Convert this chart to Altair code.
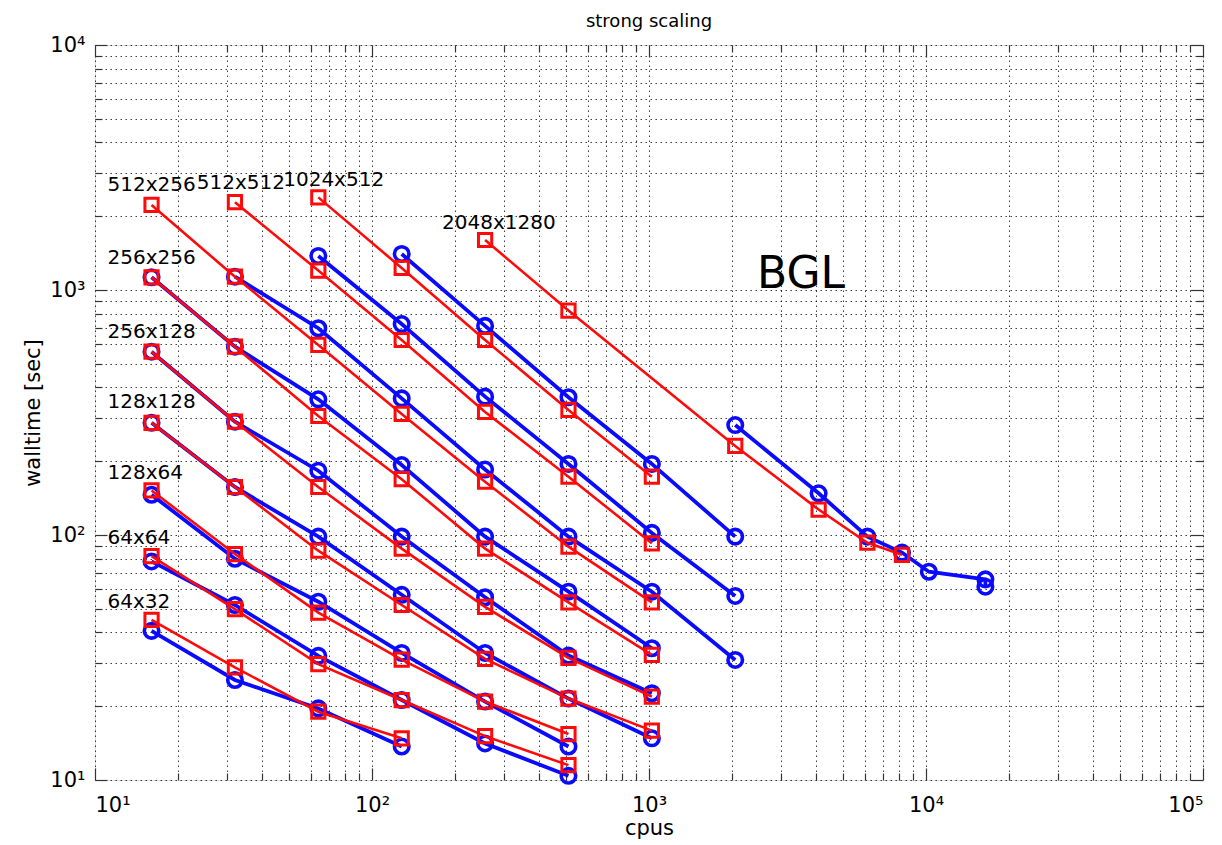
import altair as alt
import pandas as pd

# ---- data (cpus -> walltime [sec]) ----
S64x32_cpus = [16, 32, 64, 128]
S64x32_red = [45, 28.8, 19.0, 14.8]
S64x32_blue = [40.6, 25.6, 19.6, 13.7]

S64x64_cpus = [16, 32, 64, 128, 256, 512]
S64x64_red = [82, 49.8, 29.7, 21.2, 15.1, 11.5]
S64x64_blue = [78, 51.8, 32.1, 21.2, 14.1, 10.4]

S128x64_cpus = [16, 32, 64, 128, 256, 512]
S128x64_red = [152, 83.6, 48.2, 31, 20.9, 15.4]
S128x64_blue = [146, 80, 53.4, 33, 20.9, 13.7]

S128x128_cpus = [16, 32, 64, 128, 256, 512, 1024]
S128x128_red = [287, 157, 86.3, 51.8, 31.2, 21.5, 15.9]
S128x128_blue = [287, 157, 98.5, 57, 33, 21.5, 14.8]

S256x128_cpus = [16, 32, 64, 128, 256, 512, 1024]
S256x128_red = [560, 290, 157, 88, 50.9, 31.5, 21.9]
S256x128_blue = [560, 290, 183, 98.5, 55.7, 32.2, 22.6]

S256x256_cpus = [16, 32, 64, 128, 256, 512, 1024]
S256x256_red = [1127, 587, 306, 169, 88, 53.1, 32.4]
S256x256_blue = [1127, 587, 358, 193, 98.5, 58.7, 34.5]

S512x256_red_cpus = [16, 32, 64, 128, 256, 512, 1024]
S512x256_red = [2224, 1133, 597, 312, 165, 89.6, 53.1]
S512x256_blue_cpus = [32, 64, 128, 256, 512, 1024, 2048]
S512x256_blue = [1133, 698, 361, 185, 98.5, 58.7, 30.9]

S512x512_red_cpus = [32, 64, 128, 256, 512, 1024]
S512x512_red = [2282, 1200, 625, 318, 173, 92.5]
S512x512_blue_cpus = [64, 128, 256, 512, 1024, 2048]
S512x512_blue = [1377, 726, 367, 195, 102, 56.4]

S1024x512_red_cpus = [64, 128, 256, 512, 1024]
S1024x512_red = [2388, 1230, 625, 324, 173]
S1024x512_blue_cpus = [128, 256, 512, 1024, 2048]
S1024x512_blue = [1403, 714, 365, 195, 98.5]

S2048x1280_red_cpus = [256, 512, 2048, 4096, 6144, 8192]
S2048x1280_red = [1600, 824, 231, 127, 93, 83]
S2048x1280_blue_cpus = [2048, 4096, 6144, 8192, 10240, 16384, 16384]
S2048x1280_blue = [281, 148, 98.5, 84.8, 70.8, 65.9, 61.5]

# annotation texts and their anchor positions (data units)
label_text = ["512x256", "512x512", "1024x512", "2048x1280", "256x256",
              "256x128", "128x128", "128x64", "64x64", "64x32"]
label_x = [11.1, 23.3, 47.8, 179, 11.1, 11.1, 11.1, 11.1, 11.1, 11.1]
label_y = [2684, 2734, 2812, 1875, 1352, 674, 349, 179, 97.3, 53.3]

machine_text = ["BGL"]
machine_x = [2455]
machine_y = [1151]

major_x = [10, 100, 1000, 10000, 100000]
major_y = [10, 100, 1000, 10000]
minor_x = [m * 10 ** e for e in range(1, 5) for m in range(2, 10)]
minor_y = [m * 10 ** e for e in range(1, 4) for m in range(2, 10)]
tick_vals_x = sorted(major_x + minor_x)
tick_vals_y = sorted(major_y + minor_y)

# ---- build long table ----
series_defs = [
    ("64x32", "red", S64x32_cpus, S64x32_red),
    ("64x32", "blue", S64x32_cpus, S64x32_blue),
    ("64x64", "red", S64x64_cpus, S64x64_red),
    ("64x64", "blue", S64x64_cpus, S64x64_blue),
    ("128x64", "red", S128x64_cpus, S128x64_red),
    ("128x64", "blue", S128x64_cpus, S128x64_blue),
    ("128x128", "red", S128x128_cpus, S128x128_red),
    ("128x128", "blue", S128x128_cpus, S128x128_blue),
    ("256x128", "red", S256x128_cpus, S256x128_red),
    ("256x128", "blue", S256x128_cpus, S256x128_blue),
    ("256x256", "red", S256x256_cpus, S256x256_red),
    ("256x256", "blue", S256x256_cpus, S256x256_blue),
    ("512x256", "red", S512x256_red_cpus, S512x256_red),
    ("512x256", "blue", S512x256_blue_cpus, S512x256_blue),
    ("512x512", "red", S512x512_red_cpus, S512x512_red),
    ("512x512", "blue", S512x512_blue_cpus, S512x512_blue),
    ("1024x512", "red", S1024x512_red_cpus, S1024x512_red),
    ("1024x512", "blue", S1024x512_blue_cpus, S1024x512_blue),
    ("2048x1280", "red", S2048x1280_red_cpus, S2048x1280_red),
    ("2048x1280", "blue", S2048x1280_blue_cpus, S2048x1280_blue),
]
rows = []
for name, ver, cp, wt in series_defs:
    for i, (c, w) in enumerate(zip(cp, wt)):
        rows.append({"series": name, "version": ver, "cpus": c, "walltime": w, "idx": i})
df = pd.DataFrame(rows)

labels_df = pd.DataFrame({"text": label_text, "cpus": label_x, "walltime": label_y})
machine_df = pd.DataFrame({"text": machine_text, "cpus": machine_x, "walltime": machine_y})

FONT = "DejaVu Sans"
sup_expr = ("datum.value == 10 ? '10\u00b9' : datum.value == 100 ? '10\u00b2' : "
            "datum.value == 1000 ? '10\u00b3' : datum.value == 10000 ? '10\u2074' : "
            "datum.value == 100000 ? '10\u2075' : ''")

xscale = alt.Scale(type="log", domain=[10, 100000], nice=False)
yscale = alt.Scale(type="log", domain=[10, 10000], nice=False)

GRID = dict(grid=True, gridDash=[1.5, 3.5], gridColor="#000000", gridOpacity=0.75,
            gridWidth=1, ticks=False, domain=False, labelOverlap=False)

x_axis = alt.Axis(
    values=tick_vals_x, labelExpr=sup_expr,
    labelFont=FONT, labelFontSize=21, labelColor="#000", labelPadding=14,
    title="cpus", titleFont=FONT, titleFontSize=21,
    titleFontWeight="normal", titleColor="#000", titlePadding=2, **GRID)
y_axis = alt.Axis(
    values=tick_vals_y, labelExpr=sup_expr,
    labelFont=FONT, labelFontSize=21, labelColor="#000", labelPadding=10,
    title="walltime [sec]", titleFont=FONT, titleFontSize=21,
    titleFontWeight="normal", titleColor="#000", titlePadding=6, **GRID)

BLUE = "#0a0aff"
RED = "#ff0a0a"

# an invisible layer that carries the labelled axes and the grid
axes_layer = alt.Chart(df).mark_point(opacity=0).encode(
    x=alt.X("cpus:Q", scale=xscale, axis=x_axis),
    y=alt.Y("walltime:Q", scale=yscale, axis=y_axis))

nx = alt.X("cpus:Q", scale=xscale, axis=None)
ny = alt.Y("walltime:Q", scale=yscale, axis=None)
base = alt.Chart(df).encode(x=nx, y=ny, detail="series:N", order="idx:Q")

blue_line = base.transform_filter("datum.version == 'blue'").mark_line(
    color=BLUE, strokeWidth=3.8)
blue_pts = base.transform_filter("datum.version == 'blue'").mark_point(
    shape="circle", filled=False, color=BLUE, size=210, strokeWidth=3.6, opacity=1)
red_line = base.transform_filter("datum.version == 'red'").mark_line(
    color=RED, strokeWidth=2.6)
red_pts = base.transform_filter("datum.version == 'red'").mark_point(
    shape="square", filled=False, color=RED, size=175, strokeWidth=3, opacity=1)

labels = alt.Chart(labels_df).mark_text(
    align="left", baseline="middle", font=FONT, fontSize=20, color="#000"
).encode(x=nx, y=ny, text="text:N")

machine = alt.Chart(machine_df).mark_text(
    align="left", baseline="middle", font=FONT, fontSize=44, color="#000"
).encode(x=nx, y=ny, text="text:N")


def tick_layer(xo, yo, xvals, yvals, size):
    ax = alt.Axis(orient=xo, values=xvals, labels=False, grid=False, domain=False,
                  ticks=True, tickSize=size, tickColor="#333", tickWidth=1.2,
                  offset=-size, title=None)
    ay = alt.Axis(orient=yo, values=yvals, labels=False, grid=False, domain=False,
                  ticks=True, tickSize=size, tickColor="#333", tickWidth=1.2,
                  offset=-size, title=None)
    return alt.Chart(df).mark_point(opacity=0).encode(
        x=alt.X("cpus:Q", scale=xscale, axis=ax),
        y=alt.Y("walltime:Q", scale=yscale, axis=ay))


t1 = tick_layer("bottom", "left", major_x, major_y, 12)
t2 = tick_layer("bottom", "left", minor_x, minor_y, 7)
t3 = tick_layer("top", "right", major_x, major_y, 12)
t4 = tick_layer("top", "right", minor_x, minor_y, 7)

chart = alt.layer(
    axes_layer, t1, t2, t3, t4,
    blue_line, blue_pts, red_line, red_pts, labels, machine
).resolve_axis(
    x="independent", y="independent"
).properties(
    width=1108, height=735,
    autosize=alt.AutoSizeParams(type="none"),
    padding={"left": 95, "top": 45, "right": 19, "bottom": 65},
    title=alt.Title("strong scaling", font=FONT, fontSize=18, fontWeight="normal",
                    color="#000", anchor="middle", baseline="bottom", offset=7, dy=22),
).configure_view(stroke="#333333", strokeWidth=1.5).configure(background="white")

chart.save("out.html", embed_options={"renderer": "svg", "actions": False})
